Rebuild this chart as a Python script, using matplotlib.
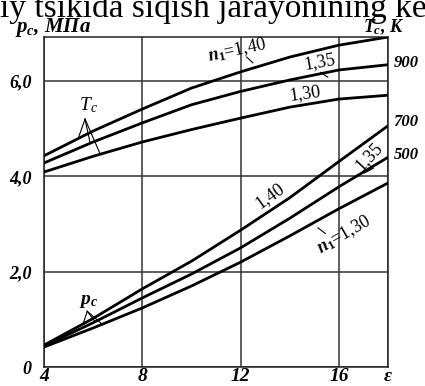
import numpy as np
import matplotlib.pyplot as plt

plt.rcParams['font.family'] = ['Liberation Serif', 'DejaVu Serif']
plt.rcParams['mathtext.fontset'] = 'custom'
plt.rcParams['mathtext.it'] = 'Liberation Serif:italic:bold'
plt.rcParams['mathtext.rm'] = 'Liberation Serif:bold'
plt.rcParams['mathtext.cal'] = 'Liberation Serif:italic'

# compression ratio
eps = [4, 6, 8, 10, 12, 14, 16, 18]

# final compression temperature curves, drawn on the pressure scale
tc_140 = [4.43, 4.95, 5.41, 5.85, 6.19, 6.50, 6.75, 6.92]
tc_135 = [4.28, 4.72, 5.12, 5.50, 5.78, 6.02, 6.23, 6.34]
tc_130 = [4.09, 4.42, 4.72, 4.98, 5.22, 5.45, 5.62, 5.70]

# final compression pressure, MPa
pc_140 = [0.46, 1.02, 1.64, 2.22, 2.87, 3.55, 4.31, 5.06]
pc_135 = [0.44, 0.93, 1.45, 1.95, 2.50, 3.12, 3.78, 4.40]
pc_130 = [0.42, 0.82, 1.24, 1.70, 2.20, 2.75, 3.32, 3.86]

x_ticks = [4, 8, 12, 16, 18]
x_labels = ['4', '8', '12', '16', 'ε']
y_ticks = [0, 2, 4, 6]
y_labels = ['0', '2,0', '4,0', '6,0']
t_pos = [6.42, 5.18, 4.49]
t_labels = ['900', '700', '500']

fig = plt.figure(figsize=(4.25, 3.86), dpi=100)
ax = fig.add_axes([0.1035, 0.049, 0.8095, 0.855])
ax.set_xlim(4, 18)
ax.set_ylim(0, 6.92)

lw = 2.0
for ys in (tc_140, tc_135, tc_130, pc_140, pc_135, pc_130):
    ax.plot(eps, ys, color='black', lw=lw, solid_capstyle='butt', zorder=3)

ax.set_xticks(x_ticks)
ax.set_xticklabels(x_labels, fontsize=14, fontweight='bold', style='italic')
ax.set_yticks(y_ticks)
ax.set_yticklabels(y_labels, fontsize=13, fontweight='bold', style='italic')
ax.tick_params(axis='x', length=0, pad=1)
ax.tick_params(axis='y', length=0, pad=9)
ax.grid(True, color='#333333', lw=1.1)
for s in ax.spines.values():
    s.set_color('#222222')
    s.set_linewidth(1.1)

# temperature labels on the right
ax2 = ax.twinx()
ax2.set_ylim(ax.get_ylim())
ax2.set_yticks(t_pos)
ax2.set_yticklabels(t_labels, fontsize=12, fontweight='bold', style='italic')
ax2.tick_params(length=0, pad=4)
for s in ax2.spines.values():
    s.set_visible(False)

lab = dict(fontsize=13, ha='center', va='center', zorder=4)
ax.text(11.85, 6.64, r'$n_1$=1,40', rotation=12, **lab)
ax.text(15.2, 6.40, '1,35', rotation=10, **lab)
ax.text(14.6, 5.74, '1,30', rotation=8, **lab)
ax.text(13.2, 3.60, '1,40', rotation=36, **lab)
ax.text(17.2, 4.42, '1,35', rotation=47, **lab)
ax.text(16.2, 2.78, r'$n_1$=1,30', rotation=30, **lab)

# short leaders from labels to curves
ax.plot([12.25, 12.50], [6.50, 6.38], color='black', lw=0.8)
ax.plot([15.25, 15.55], [6.18, 6.08], color='black', lw=0.8)
ax.plot([17.05, 17.40], [4.07, 4.17], color='black', lw=0.8)
ax.plot([15.15, 15.45], [2.92, 2.80], color='black', lw=0.8)

ax.text(5.80, 5.50, r'$\mathcal{T}_\mathcal{c}$', fontsize=14, ha='center', va='center')
apex = (5.67, 5.20)
for xe, ys in zip([5.39, 5.88, 6.29], (tc_140, tc_135, tc_130)):
    ax.plot([apex[0], xe], [apex[1], np.interp(xe, eps, ys)], color='black', lw=0.8)

ax.text(5.80, 1.38, r'$p_c$', fontsize=14, ha='center', va='center')
apex = (5.76, 1.17)
for xe, ys in zip([5.59, 6.08, 6.37], (pc_140, pc_135, pc_130)):
    ax.plot([apex[0], xe], [apex[1], np.interp(xe, eps, ys)], color='black', lw=0.8)

fig.text(0.035, 0.93, r'$p_c$, МПа', fontsize=15, fontweight='bold',
         style='italic', ha='left', va='center')
fig.text(0.855, 0.93, r'$T_c$, К', fontsize=13, fontweight='bold',
         style='italic', ha='left', va='center')

fig.text(-0.005, 386 - 17, 'iy tsikida siqish jarayonining keel', fontsize=24,
         ha='left', va='baseline', transform=None)

fig.savefig('out.png', dpi=100)
